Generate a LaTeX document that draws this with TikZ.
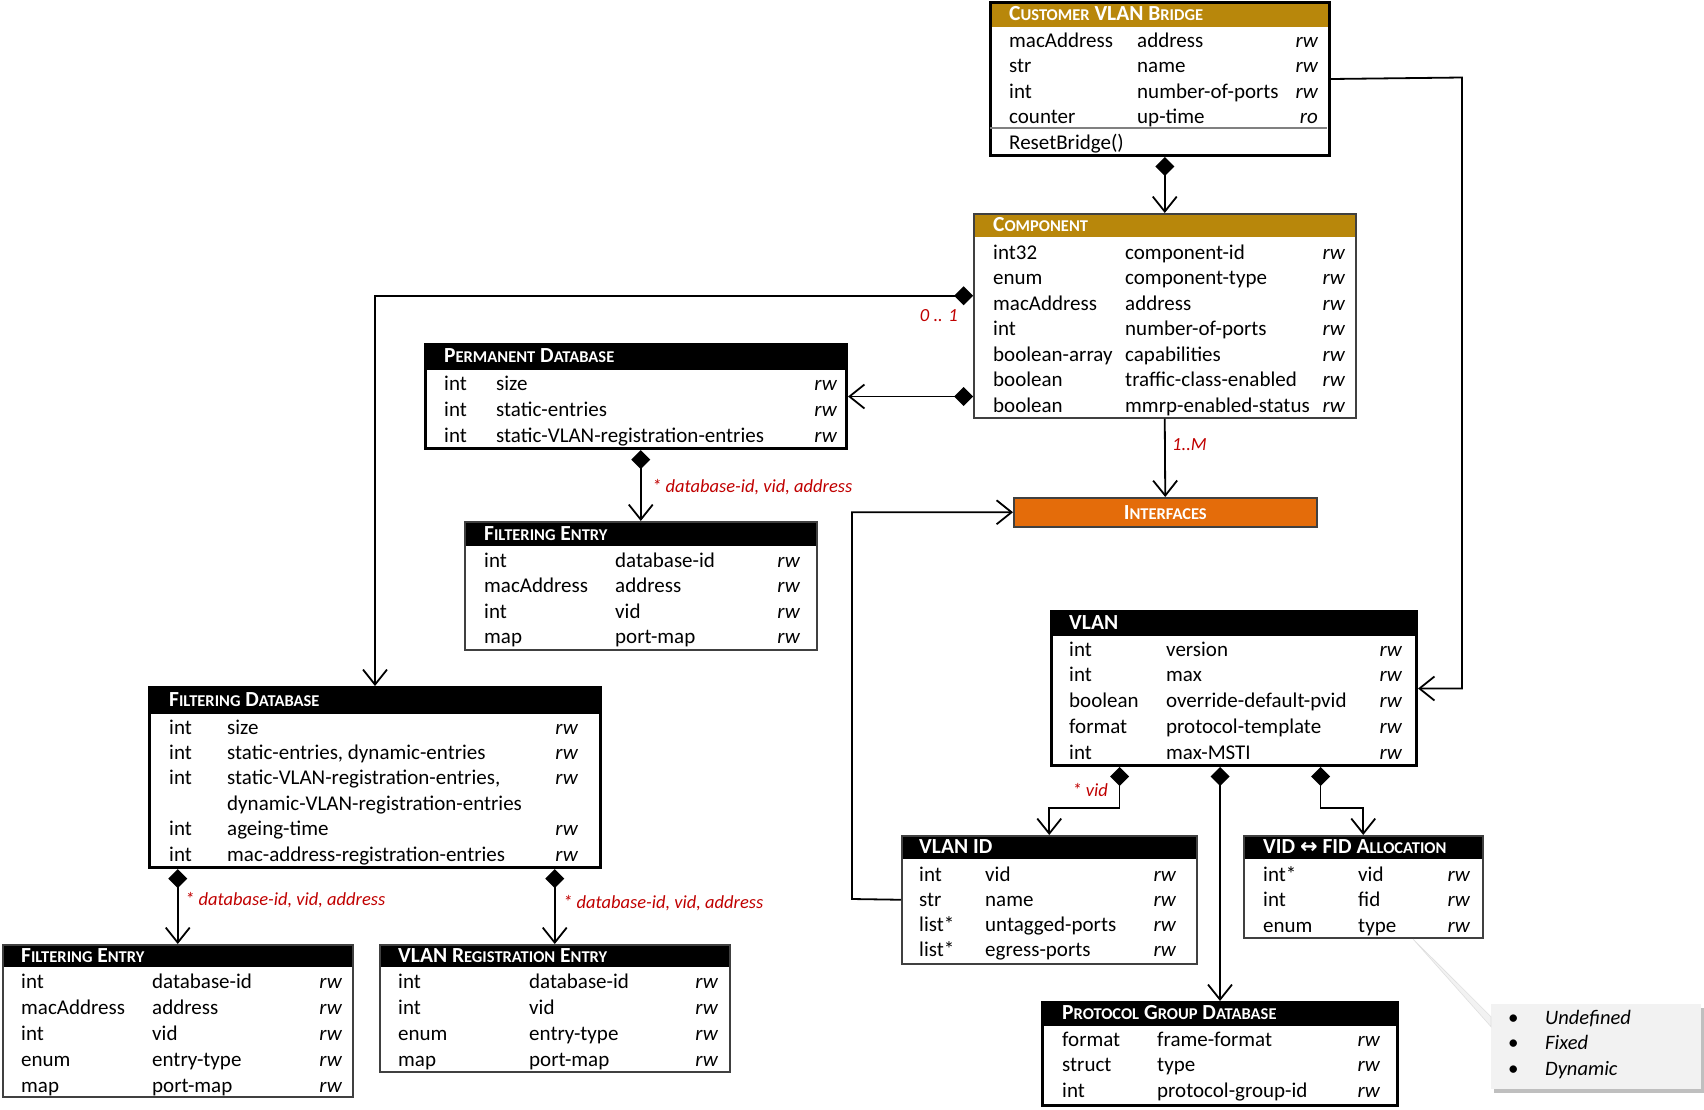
\documentclass[tikz,border=0pt]{standalone}
\usepackage{fontspec}
\setmainfont{Carlito}
\newfontfamily\symfont{DejaVu Sans}
\usetikzlibrary{arrows.meta,shadows}

\definecolor{gold}{RGB}{184,135,11}
\definecolor{ifcorange}{RGB}{228,108,10}
\definecolor{labred}{RGB}{192,0,0}
\definecolor{boxgray}{RGB}{64,64,64}
\definecolor{notegray}{RGB}{242,242,242}

% fake small caps: big first letter, smaller rest
\newcommand\smc[2]{#1{\fontsize{16.5}{19}\selectfont #2}}

\begin{document}
\begin{tikzpicture}[x=1pt, y=-1pt,
  every node/.style={font=\fontsize{21}{25}\selectfont},
  thickbox/.style={draw=black, line width=3pt, fill=white, anchor=north west, inner sep=0pt},
  thinbox/.style={draw=boxgray, line width=1.5pt, fill=white, anchor=north west, inner sep=0pt},
  header/.style 2 args={path picture={\fill[#1] (path picture bounding box.north west)
      rectangle ([yshift=-#2pt]path picture bounding box.north east);}},
  title/.style={anchor=base west, inner sep=0pt, text=white, font=\fontsize{21.5}{25}\selectfont\bfseries},
  cell/.style={anchor=base west, inner sep=0pt},
  acc/.style={anchor=base east, inner sep=0pt, font=\fontsize{21}{25}\selectfont\itshape},
  lbl/.style={inner sep=0pt, text=labred, font=\fontsize{18.5}{22}\selectfont\itshape},
  link/.style={line width=1.8pt, {Diamond[length=19pt,width=19pt]}-{Straight Barb[length=15pt,width=24pt]}},
  arr/.style={line width=1.8pt, -{Straight Barb[length=15pt,width=24pt]}}
]
  \useasboundingbox (0,0) rectangle (1704,1109);

  % Customer VLAN Bridge
  \node[thickbox, header={gold}{24}, minimum width=339, minimum height=153] (cvb) at (989,1) {};
  \node[title] (cvb-title) at (1009,20) {\smc{C}{USTOMER} VLAN \smc{B}{RIDGE}};
  \foreach \ty/\nm/\ac [count=\i] in {macAddress/address/rw, str/name/rw,
      int/number-of-ports/rw, counter/up-time/ro}{
    \node[cell] (cvb-t\i) at (1009,{47+25.5*(\i-1)}) {\ty};
    \node[cell] (cvb-n\i) at (1137,{47+25.5*(\i-1)}) {\nm};
    \node[acc] (cvb-a\i) at (1318,{47+25.5*(\i-1)}) {\ac};
  }
  \draw[gray, line width=2pt] (990,128) -- (1327,128);
  \node[cell] (cvb-op) at (1009,149) {ResetBridge()};

  % Component
  \node[thinbox, header={gold}{23}, minimum width=382, minimum height=204] (comp) at (973,213) {};
  \node[title] (comp-title) at (993,231) {\smc{C}{OMPONENT}};
  \foreach \ty/\nm [count=\i] in {int32/component-id, enum/component-type, macAddress/address,
      int/number-of-ports, boolean-array/capabilities, boolean/traffic-class-enabled,
      boolean/mmrp-enabled-status}{
    \node[cell] (comp-t\i) at (993,{259+25.5*(\i-1)}) {\ty};
    \node[cell] (comp-n\i) at (1125,{259+25.5*(\i-1)}) {\nm};
    \node[acc] (comp-a\i) at (1345,{259+25.5*(\i-1)}) {rw};
  }

  % Interfaces
  \node[draw=boxgray, line width=1.5pt, fill=ifcorange, anchor=north west, minimum width=303,
    minimum height=29, text=white, font=\fontsize{21.5}{25}\selectfont\bfseries] (intf) at (1013,497) {\smc{I}{NTERFACES}};

  % Permanent Database
  \node[thickbox, header={black}{25}, minimum width=421, minimum height=104] (perm) at (424,343) {};
  \node[title] (perm-title) at (444,362) {\smc{P}{ERMANENT} \smc{D}{ATABASE}};
  \foreach \nm [count=\i] in {size, static-entries, static-VLAN-registration-entries}{
    \node[cell] (perm-t\i) at (444,{390+26*(\i-1)}) {int};
    \node[cell] (perm-n\i) at (496,{390+26*(\i-1)}) {\nm};
    \node[acc] (perm-a\i) at (837,{390+26*(\i-1)}) {rw};
  }

  % Filtering Entry (permanent)
  \node[thinbox, header={black}{24}, minimum width=352, minimum height=128] (fent) at (464,521) {};
  \node[title] (fent-title) at (484,540) {\smc{F}{ILTERING} \smc{E}{NTRY}};
  \foreach \ty/\nm [count=\i] in {int/database-id, macAddress/address, int/vid, map/port-map}{
    \node[cell] (fent-t\i) at (484,{567+25.6*(\i-1)}) {\ty};
    \node[cell] (fent-n\i) at (615,{567+25.6*(\i-1)}) {\nm};
    \node[acc] (fent-a\i) at (800,{567+25.6*(\i-1)}) {rw};
  }

  % Filtering Database
  \node[thickbox, header={black}{26}, minimum width=451, minimum height=180] (fdb) at (148,686) {};
  \node[title] (fdb-title) at (169,706) {\smc{F}{ILTERING} \smc{D}{ATABASE}};
  \foreach \ty/\nm/\ac [count=\i] in {int/size/rw, int/{static-entries, dynamic-entries}/rw,
      int/{static-VLAN-registration-entries,}/rw, /dynamic-VLAN-registration-entries/,
      int/ageing-time/rw, int/mac-address-registration-entries/rw}{
    \node[cell] (fdb-t\i) at (169,{734+25.4*(\i-1)}) {\ty};
    \node[cell] (fdb-n\i) at (227,{734+25.4*(\i-1)}) {\nm};
    \node[acc] (fdb-a\i) at (578,{734+25.4*(\i-1)}) {\ac};
  }

  % Filtering Entry (filtering database)
  \node[thinbox, header={black}{22}, minimum width=350, minimum height=152] (fent2) at (2,944) {};
  \node[title] (fent2-title) at (21,962) {\smc{F}{ILTERING} \smc{E}{NTRY}};
  \foreach \ty/\nm [count=\i] in {int/database-id, macAddress/address, int/vid,
      enum/entry-type, map/port-map}{
    \node[cell] (fent2-t\i) at (21,{988+26*(\i-1)}) {\ty};
    \node[cell] (fent2-n\i) at (152,{988+26*(\i-1)}) {\nm};
    \node[acc] (fent2-a\i) at (342,{988+26*(\i-1)}) {rw};
  }

  % VLAN Registration Entry
  \node[thinbox, header={black}{22}, minimum width=350, minimum height=127] (vre) at (379,944) {};
  \node[title] (vre-title) at (398,962) {VLAN \smc{R}{EGISTRATION} \smc{E}{NTRY}};
  \foreach \ty/\nm [count=\i] in {int/database-id, int/vid, enum/entry-type, map/port-map}{
    \node[cell] (vre-t\i) at (398,{988+26*(\i-1)}) {\ty};
    \node[cell] (vre-n\i) at (529,{988+26*(\i-1)}) {\nm};
    \node[acc] (vre-a\i) at (718,{988+26*(\i-1)}) {rw};
  }

  % VLAN
  \node[thickbox, header={black}{24}, minimum width=365, minimum height=154] (vlan) at (1050,610) {};
  \node[title] (vlan-title) at (1069,629) {VLAN};
  \foreach \ty/\nm [count=\i] in {int/version, int/max, boolean/override-default-pvid,
      format/protocol-template, int/max-MSTI}{
    \node[cell] (vlan-t\i) at (1069,{656+25.75*(\i-1)}) {\ty};
    \node[cell] (vlan-n\i) at (1166,{656+25.75*(\i-1)}) {\nm};
    \node[acc] (vlan-a\i) at (1402,{656+25.75*(\i-1)}) {rw};
  }

  % VLAN ID
  \node[thinbox, header={black}{23}, minimum width=295, minimum height=128] (vid) at (901,835) {};
  \node[title] (vid-title) at (919,853) {VLAN ID};
  \foreach \ty/\nm [count=\i] in {int/vid, str/name, list*/untagged-ports, list*/egress-ports}{
    \node[cell] (vid-t\i) at (919,{881+25.3*(\i-1)}) {\ty};
    \node[cell] (vid-n\i) at (985,{881+25.3*(\i-1)}) {\nm};
    \node[acc] (vid-a\i) at (1176,{881+25.3*(\i-1)}) {rw};
  }

  % VID <-> FID Allocation
  \node[thinbox, header={black}{23}, minimum width=239, minimum height=102] (vfa) at (1243,835) {};
  \node[title] (vfa-title) at (1263,853) {VID {\symfont\bfseries\fontsize{21}{25}\selectfont ↔} FID \smc{A}{LLOCATION}};
  \foreach \ty/\nm [count=\i] in {int*/vid, int/fid, enum/type}{
    \node[cell] (vfa-t\i) at (1263,{881+25.5*(\i-1)}) {\ty};
    \node[cell] (vfa-n\i) at (1358,{881+25.5*(\i-1)}) {\nm};
    \node[acc] (vfa-a\i) at (1470,{881+25.5*(\i-1)}) {rw};
  }

  % Protocol Group Database
  \node[thickbox, header={black}{23}, minimum width=355, minimum height=103] (pgd) at (1041,1001) {};
  \node[title] (pgd-title) at (1062,1019) {\smc{P}{ROTOCOL} \smc{G}{ROUP} \smc{D}{ATABASE}};
  \foreach \ty/\nm [count=\i] in {format/frame-format, struct/type, int/protocol-group-id}{
    \node[cell] (pgd-t\i) at (1062,{1046+25.5*(\i-1)}) {\ty};
    \node[cell] (pgd-n\i) at (1157,{1046+25.5*(\i-1)}) {\nm};
    \node[acc] (pgd-a\i) at (1380,{1046+25.5*(\i-1)}) {rw};
  }

  % Note on type values
  \node[fill=notegray, anchor=north west, minimum width=210, minimum height=85,
    drop shadow={shadow xshift=3pt, shadow yshift=-4pt, opacity=0.5}] (note) at (1491,1004) {};
  \coordinate (tip) at (1413,939);
  \fill[notegray, draw=gray!25, line width=0.6pt] (tip) -- ([yshift=30pt]note.west)
    -- ([yshift=20pt]note.west) -- cycle;
  \foreach \it [count=\i] in {Undefined, Fixed, Dynamic}{
    \node[cell] (note-b\i) at (1508,{1024+25.5*(\i-1)}) {\textbullet};
    \node[cell, font=\fontsize{20.5}{25}\selectfont\itshape] (note-t\i) at (1545,{1024+25.5*(\i-1)}) {\it};
  }

  % Compositions
  \draw[link] (cvb.south -| comp.north) -- (comp.north);
  \draw[link] ([yshift=20pt]comp.west) -| (fdb.north);
  \draw[link] (perm.east -| comp.west) -- (perm.east);
  \draw[link] (perm.south -| fent.north) -- (fent.north);
  \draw[link] (fdb.south -| fent2.north) -- (fent2.north);
  \draw[link] (fdb.south -| vre.north) -- (vre.north);
  \draw[link] ([xshift=-114.5pt]vlan.south) -- ++(0,41) -| (vid.north);
  \draw[link] (vlan.south -| pgd.north) -- (pgd.north);
  \draw[link] ([xshift=86.5pt]vlan.south) -- ++(0,41) -| (vfa.north);

  % Plain associations
  \coordinate (bridgeturn) at (1462,77.5);
  \coordinate (vidturn) at (852,899);
  \draw[arr] (comp.south) -- (intf.north);
  \draw[arr] (cvb.east) -- (bridgeturn) |- (vlan.east);
  \draw[arr] (vid.west) -- (vidturn) |- (intf.west);

  % Multiplicity labels
  \node[lbl, anchor=east] (l-comp) at (958,316) {0 .. 1};
  \node[lbl, anchor=west] (l-intf) at (1172,445) {1..M};
  \node[lbl, anchor=west] (l-perm) at (652,487) {* database-id, vid, address};
  \node[lbl, anchor=west] (l-fent) at (185,900) {* database-id, vid, address};
  \node[lbl, anchor=west] (l-vre) at (563,903) {* database-id, vid, address};
  \node[lbl, anchor=east] (l-vid) at (1108,790) {* vid};
\end{tikzpicture}
\end{document}
